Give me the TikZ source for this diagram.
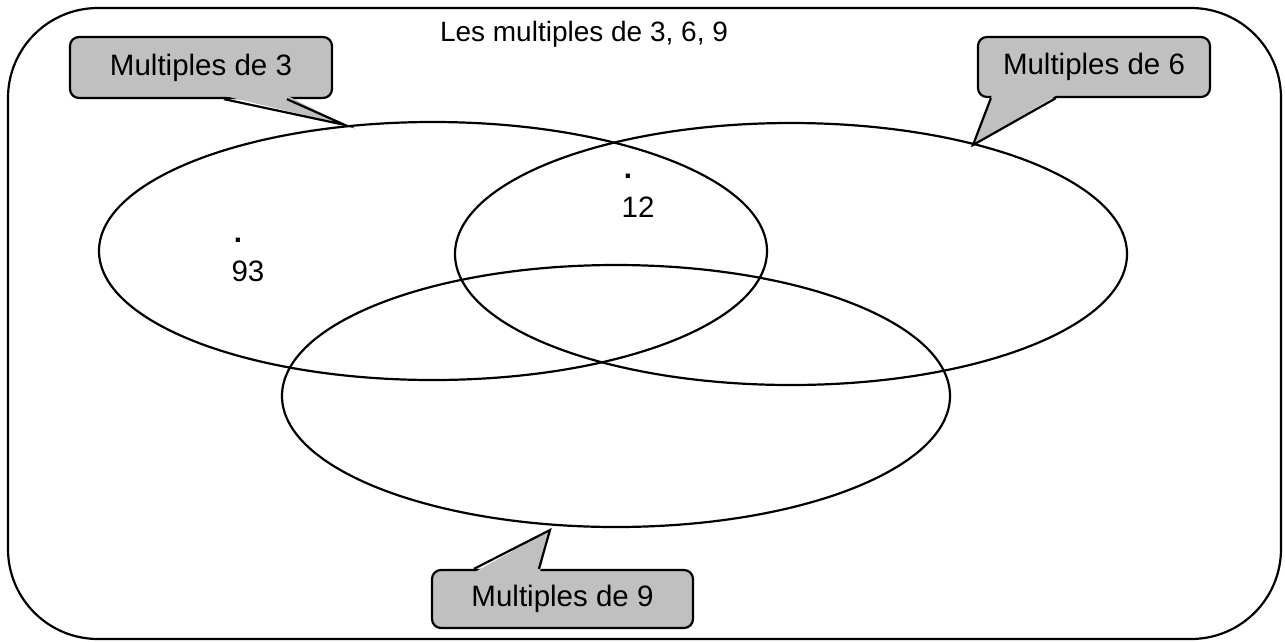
\documentclass[tikz,border=0pt]{standalone}
\usepackage{fontspec}
\setmainfont{Liberation Sans}
\begin{document}
\begin{tikzpicture}[x=1pt,y=-1pt,
  line width=2.2pt,
  lab/.style={font=\fontsize{29.5}{33}\selectfont, inner sep=0pt},
  dotlab/.style={font=\fontsize{29.5}{33}\selectfont\bfseries, inner sep=0pt, anchor=base},
  callout/.style={draw, fill=callgray, rounded corners=9pt, line width=2.2pt, font=\fontsize{29.5}{33}\selectfont, inner sep=0pt},
  ptr/.style={fill=callgray},
]
\definecolor{callgray}{RGB}{192,192,192}
\useasboundingbox (0,0) rectangle (1285,641);
% outer frame
\draw[rounded corners=90pt] (8,8) rectangle (1281,639);
% title
\node[lab, font=\fontsize{28}{32}\selectfont] (title) at (584,34) {Les multiples de 3, 6, 9};
% ellipses
\draw (433,251) ellipse [x radius=334, y radius=129];
\draw (791,254) ellipse [x radius=336, y radius=131];
\draw (616,396) ellipse [x radius=334, y radius=131];
% callout: multiples de 3
\node[callout, minimum width=262pt, minimum height=61pt] (c3) at (201,67.5) {Multiples de 3};
\coordinate (t3) at (345,125);
\fill[ptr] (225,96) -- (t3) -- (288,96) -- cycle;
\draw ([xshift=155pt]c3.south west) -- (t3) -- ([xshift=218pt]c3.south west);
% callout: multiples de 6
\node[callout, minimum width=232pt, minimum height=60pt] (c6) at (1094,67) {Multiples de 6};
\coordinate (t6) at (973,145);
\fill[ptr] (992,95) -- (t6) -- (1057,95) -- cycle;
\draw ([xshift=14pt]c6.south west) -- (t6) -- ([xshift=79pt]c6.south west);
% callout: multiples de 9
\node[callout, minimum width=261pt, minimum height=58pt] (c9) at (562.5,599) {Multiples de 9};
\coordinate (t9) at (550,530);
\fill[ptr] (475,572) -- (t9) -- (540,572) -- cycle;
\draw ([xshift=43pt]c9.north west) -- (t9) -- ([xshift=108pt]c9.north west);
% elements
\node[dotlab] (d12) at (628,178) {.};
\node[lab] (n12) at (638,207) {12};
\node[dotlab] (d93) at (238,242) {.};
\node[lab] (n93) at (248,271) {93};
\end{tikzpicture}
\end{document}
